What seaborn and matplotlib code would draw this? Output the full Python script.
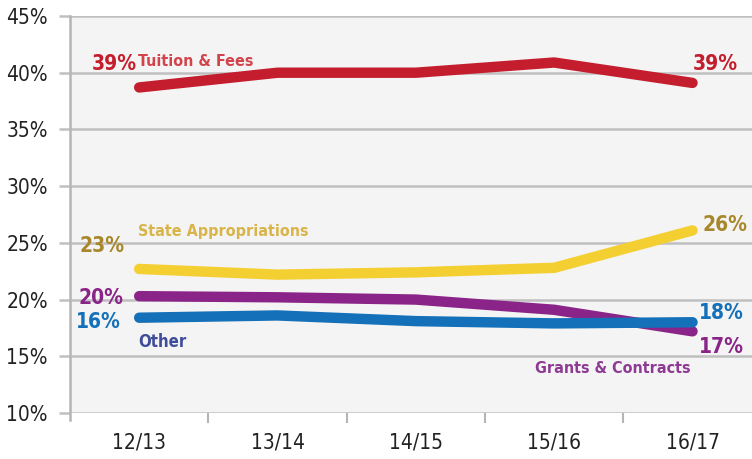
import pandas as pd
import matplotlib.pyplot as plt
import seaborn as sns

years = ["12/13", "13/14", "14/15", "15/16", "16/17"]
tuition = [38.7, 40.0, 40.0, 40.9, 39.1]
state = [22.7, 22.2, 22.4, 22.8, 26.1]
grants = [20.3, 20.2, 20.0, 19.1, 17.2]
other = [18.4, 18.6, 18.1, 17.9, 18.0]

series = {
    "Tuition & Fees": (tuition, "#c41e2e"),
    "State Appropriations": (state, "#f4cf32"),
    "Grants & Contracts": (grants, "#8a2488"),
    "Other": (other, "#1470b8"),
}

rows = []
for name, (vals, _) in series.items():
    for i, v in enumerate(vals):
        rows.append({"pos": i, "value": v, "source": name})
df = pd.DataFrame(rows)

sns.set_style("white")
plt.rcParams["font.family"] = ["DejaVu Sans"]
plt.rcParams["font.stretch"] = "condensed"

fig = plt.figure(figsize=(7.52, 4.59), dpi=100)
fig.patch.set_facecolor("white")
ax = fig.add_axes([70 / 752, 1 - 413 / 459, 682 / 752, 397 / 459])
ax.set_facecolor("#f4f4f4")

palette = {k: c for k, (_, c) in series.items()}
sns.lineplot(data=df, x="pos", y="value", hue="source", palette=palette,
             linewidth=7.5, legend=False, ax=ax, solid_capstyle="round", zorder=3)

ax.set_xlim(-0.5, 4.43)
ax.set_ylim(10, 45)
yt = list(range(10, 50, 5))
ax.set_yticks(yt)
ax.set_yticklabels([f"{v}%" for v in yt], fontsize=15, color="#222222")
ax.set_xticks(range(len(years)))
ax.set_xticklabels(years, fontsize=15, color="#222222")
ax.set_xticks([i - 0.5 for i in range(1, len(years))], minor=True)
ax.tick_params(bottom=True, left=True)
ax.tick_params(axis="x", which="major", length=0, pad=14)
ax.tick_params(axis="x", which="minor", bottom=True, length=7, width=1.5, color="#b5b5b5")
ax.tick_params(axis="y", length=8, width=1.8, color="#c0c0c0", pad=8)
ax.grid(axis="y", color="#c0c0c0", linewidth=1.8, zorder=1)
ax.set_axisbelow(True)
for s in ["top", "right", "bottom"]:
    ax.spines[s].set_visible(False)
ax.spines["left"].set_color("#b5b5b5")
ax.spines["left"].set_linewidth(1.8)
ax.spines["left"].set_bounds(9.4, 45)
ax.set_xlabel("")
ax.set_ylabel("")

bold = dict(fontweight="bold", va="center")
ax.text(-0.34, 40.8, "39%", color="#c41e2e", fontsize=15, **bold)
ax.text(-0.01, 41.0, "Tuition & Fees", color="#d2434c", fontsize=11.5, **bold)
ax.text(4.0, 40.8, "39%", color="#c41e2e", fontsize=15, **bold)
ax.text(-0.01, 26.0, "State Appropriations", color="#d9b448", fontsize=11.5, **bold)
ax.text(-0.43, 24.7, "23%", color="#a8862a", fontsize=15, **bold)
ax.text(4.07, 26.6, "26%", color="#a8862a", fontsize=15, **bold)
ax.text(-0.44, 20.1, "20%", color="#8a2488", fontsize=15, **bold)
ax.text(-0.46, 18.0, "16%", color="#1470b8", fontsize=15, **bold)
ax.text(-0.01, 16.3, "Other", color="#3f4c9a", fontsize=12, **bold)
ax.text(4.05, 18.8, "18%", color="#1470b8", fontsize=15, **bold)
ax.text(4.05, 15.8, "17%", color="#8a2488", fontsize=15, **bold)
ax.text(2.86, 13.9, "Grants & Contracts", color="#8e3a94", fontsize=11.5, **bold)

fig.savefig("out.png", dpi=100, facecolor="white")
